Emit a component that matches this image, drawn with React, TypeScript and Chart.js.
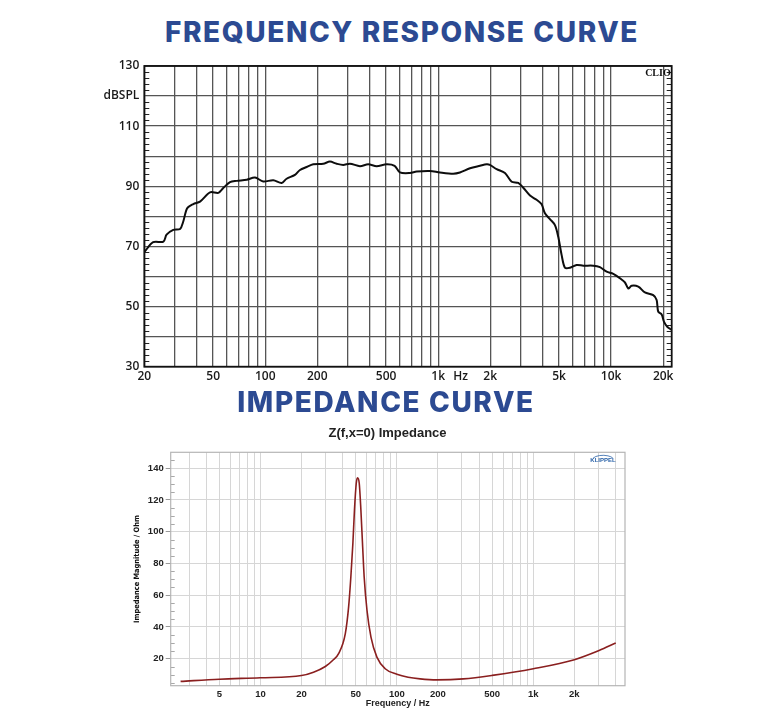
import React, { useRef, useEffect } from 'react';
import { Chart, registerables } from 'chart.js';

Chart.register(...registerables);

// ---- frequency response (CLIO) ----
const frHz = [
  20, 22.5, 25.8, 26.9, 29.4, 32.2, 33.6, 35.4, 38.4, 42, 48, 53.6, 57.2, 62.6, 68.4, 78.2, 87.3, 97.4,
  111.4, 124.5, 133, 148.6, 158.9, 173.7, 189.6, 216.6, 236.8, 258.9, 282.7, 309, 353, 394, 441, 504,
  560, 601, 687, 751, 896, 1024, 1222, 1336, 1528, 1746, 1907, 1992, 2178, 2433, 2661, 2905, 3106,
  3397, 3709, 3965, 4143, 4428, 4734, 4947, 5176, 5409, 5780, 6317, 6902, 7878, 8614, 9418, 10290,
  11250, 12025, 12570, 13140, 14360, 15680, 17520, 18330, 18720, 19600, 20200, 21110, 22400,
];
const frDb = [
  68.1, 71.4, 71.6, 73.9, 75.5, 75.8, 78.3, 82.7, 84.1, 84.9, 88.0, 87.8, 89.4, 91.4, 91.8, 92.2, 92.9, 91.6,
  92.0, 91.1, 92.5, 93.8, 95.4, 96.4, 97.3, 97.5, 98.2, 97.5, 97.1, 97.5, 96.7, 97.3, 96.7, 97.3,
  96.8, 94.6, 94.4, 94.9, 95.1, 94.6, 94.2, 94.6, 96.0, 96.8, 97.3, 97.1, 95.7, 94.4, 91.5, 91.1, 89.5,
  86.9, 85.5, 84.0, 81.0, 79.1, 77.1, 73.2, 67.1, 62.9, 62.9, 63.8, 63.6, 63.6, 63.1, 61.6, 60.9,
  59.4, 58.0, 56.0, 56.9, 56.6, 54.7, 53.8, 52.2, 48.3, 47.4, 45.0, 43.3, 42.2,
];
const frGridHz = [
  20, 30, 40, 50, 60, 70, 80, 90, 100, 200, 300, 400, 500, 600, 700, 800, 900,
  1000, 1350, 2000, 3000, 4000, 5000, 6000, 7000, 8000, 9000, 10000, 20000,
];
const frHzMark = 1350;
const frLabels: Record<number, string> = {
  20: '20', 50: '50', 100: '100', 200: '200', 500: '500', 1000: '1k', 1350: 'Hz',
  2000: '2k', 5000: '5k', 10000: '10k', 20000: '20k',
};
const frDbTicks = [30, 40, 50, 60, 70, 80, 90, 100, 110, 120, 130];
const frDbLabels: Record<number, string> = {
  130: '130', 120: 'dBSPL', 110: '110', 90: '90', 70: '70', 50: '50', 30: '30',
};

// ---- impedance (Klippel) ----
const zHz = [
  2.6, 5, 10, 20, 24.5, 29.9, 34.4, 37.4, 41.9, 44.3, 46.0, 47.6, 48.9, 50.4, 51.5, 53.0, 54.5, 56.0,
  57.6, 60.4, 64.6, 71.4, 82.1, 100, 121, 148, 196, 307, 500, 1000, 2000, 3035, 4018,
];
const zOhm = [
  5.7, 7.1, 8.0, 9.4, 11.5, 15.1, 19.5, 23.2, 35.8, 52.6, 71.5, 92.6, 113.7, 130.5, 134, 130.5, 113.7, 92.6,
  71.5, 50.5, 33.6, 21.0, 13.7, 10.2, 8.3, 7.3, 6.7, 7.3, 9.5, 13.7, 19.4, 25.2, 29.9,
];
const zGridHz = [
  3, 4, 5, 6, 7, 8, 9, 10, 20, 30, 40, 50, 60, 70, 80, 90, 100, 200, 300, 400, 500, 600, 700, 800, 900,
  1000, 2000, 3000, 4000,
];
const zLabels: Record<number, string> = {
  5: '5', 10: '10', 20: '20', 50: '50', 100: '100', 200: '200', 500: '500', 1000: '1k', 2000: '2k',
};
const zOhmTicks = [20, 40, 60, 80, 100, 120, 140];

const clioFrame = {
  id: 'clioFrame',
  afterDraw(chart: any) {
    const { ctx, chartArea: a, scales } = chart;
    ctx.save();
    ctx.strokeStyle = '#222';
    ctx.lineWidth = 1;
    for (let v = 32; v < 130; v += 2) {
      if (v % 10 === 0) continue;
      const py = Math.round(scales.y.getPixelForValue(v)) + 0.5;
      ctx.beginPath();
      ctx.moveTo(a.left, py);
      ctx.lineTo(a.left + 5, py);
      ctx.moveTo(a.right - 5, py);
      ctx.lineTo(a.right, py);
      ctx.stroke();
    }
    ctx.strokeStyle = '#111';
    ctx.lineWidth = 1.8;
    ctx.strokeRect(a.left, a.top, a.right - a.left, a.bottom - a.top);
    ctx.fillStyle = '#111';
    ctx.font = 'bold 10px "Liberation Serif", serif';
    ctx.textAlign = 'right';
    ctx.textBaseline = 'top';
    ctx.fillText('CLIO', a.right - 1, a.top + 2);
    ctx.restore();
  },
};

const klippelFrame = {
  id: 'klippelFrame',
  afterDraw(chart: any) {
    const { ctx, chartArea: a, scales, width } = chart;
    ctx.save();
    ctx.strokeStyle = '#a8a8a8';
    ctx.lineWidth = 1;
    for (let v = 5; v < 150; v += 5) {
      if (v % 20 === 0) continue;
      const py = Math.round(scales.y.getPixelForValue(v)) + 0.5;
      ctx.beginPath();
      ctx.moveTo(a.left, py);
      ctx.lineTo(a.left + 4, py);
      ctx.stroke();
    }
    ctx.strokeStyle = '#b5b5b5';
    ctx.lineWidth = 1.2;
    ctx.strokeRect(a.left, a.top, a.right - a.left, a.bottom - a.top);

    // chart heading, centred on the whole canvas
    ctx.fillStyle = '#222';
    ctx.font = 'bold 13px "Liberation Sans", Arial, sans-serif';
    ctx.textAlign = 'center';
    ctx.textBaseline = 'middle';
    ctx.fillText('Z(f,x=0) Impedance', width / 2, 13);

    ctx.fillStyle = '#2a62a8';
    ctx.font = 'bold 6px "Liberation Sans", Arial, sans-serif';
    ctx.fillText('KLIPPEL', a.right - 22, a.top + 8);
    ctx.strokeStyle = '#2a62a8';
    ctx.lineWidth = 0.8;
    ctx.beginPath();
    ctx.ellipse(a.right - 22, a.top + 8, 11, 5, 0, Math.PI * 1.15, Math.PI * 1.85);
    ctx.stroke();
    ctx.restore();
  },
};

const FrequencyChart: React.FC = () => {
  const chartRef = useRef<HTMLCanvasElement>(null);

  useEffect(() => {
    if (!chartRef.current) return;
    const tickFont = { family: '"Open Sans", sans-serif', size: 12, weight: 600 as any };
    const chart = new Chart(chartRef.current, {
      type: 'line',
      data: {
        datasets: [{
          data: frHz.map((f, i) => ({ x: f, y: frDb[i] })),
          borderColor: '#0d0d0d',
          borderWidth: 2,
          pointRadius: 0,
          tension: 0.3,
          fill: false,
        }],
      },
      options: {
        animation: false,
        responsive: true,
        maintainAspectRatio: false,
        layout: { padding: { top: 16, right: 89.3, bottom: 0, left: 0 } },
        plugins: { legend: { display: false }, tooltip: { enabled: false } },
        scales: {
          x: {
            type: 'logarithmic',
            min: 20,
            max: 22400,
            afterBuildTicks: (s: any) => { s.ticks = frGridHz.map((value) => ({ value })); },
            afterFit: (s: any) => { s.height = 23.3; },
            grid: {
              color: (c: any) => (c.tick && c.tick.value === frHzMark ? 'rgba(0,0,0,0)' : '#555'),
              lineWidth: 1.3,
              drawTicks: false,
            },
            border: { display: false },
            ticks: {
              autoSkip: false,
              maxRotation: 0,
              padding: 3,
              color: '#1a1a1a',
              font: tickFont,
              callback: (v: any) => frLabels[Number(v)] ?? '',
            },
          },
          y: {
            min: 30,
            max: 130,
            afterBuildTicks: (s: any) => { s.ticks = frDbTicks.map((value) => ({ value })); },
            afterFit: (s: any) => { s.width = 144.3; },
            grid: { color: '#555', lineWidth: 1.3, drawTicks: false },
            border: { display: false },
            ticks: {
              padding: 5,
              color: '#1a1a1a',
              font: tickFont,
              callback: (v: any) => frDbLabels[Number(v)] ?? '',
            },
          },
        },
      },
      plugins: [clioFrame],
    });
    return () => chart.destroy();
  }, []);

  return (
    <div style={{ position: 'absolute', left: 0, top: 50, width: 761, height: 340 }}>
      <canvas ref={chartRef}></canvas>
    </div>
  );
};

const ImpedanceChart: React.FC = () => {
  const chartRef = useRef<HTMLCanvasElement>(null);

  useEffect(() => {
    if (!chartRef.current) return;
    const tickFont = { family: '"Liberation Sans", Arial, sans-serif', size: 9.5, weight: 'bold' as any };
    const chart = new Chart(chartRef.current, {
      type: 'line',
      data: {
        datasets: [{
          data: zHz.map((f, i) => ({ x: f, y: zOhm[i] })),
          borderColor: '#8a1f1f',
          borderWidth: 1.6,
          pointRadius: 0,
          cubicInterpolationMode: 'monotone',
          fill: false,
        }],
      },
      options: {
        animation: false,
        responsive: true,
        maintainAspectRatio: false,
        layout: { padding: { top: 32.3, right: 30, bottom: 0, left: 0 } },
        plugins: {
          legend: { display: false },
          tooltip: { enabled: false },
        },
        scales: {
          x: {
            type: 'logarithmic',
            min: 2.2,
            max: 4700,
            afterBuildTicks: (s: any) => { s.ticks = zGridHz.map((value) => ({ value })); },
            afterFit: (s: any) => { s.height = 28.3; },
            grid: { color: '#d6d6d6', lineWidth: 1, drawTicks: false },
            border: { display: false },
            title: {
              display: true,
              text: 'Frequency / Hz',
              color: '#222',
              font: { family: '"Liberation Sans", Arial, sans-serif', size: 9, weight: 'bold' },
              padding: { top: 0, bottom: 4.6 },
            },
            ticks: {
              autoSkip: false,
              maxRotation: 0,
              padding: 3,
              color: '#222',
              font: tickFont,
              callback: (v: any) => zLabels[Number(v)] ?? '',
            },
          },
          y: {
            min: 3,
            max: 150,
            afterBuildTicks: (s: any) => { s.ticks = zOhmTicks.map((value) => ({ value })); },
            afterFit: (s: any) => { s.width = 50.7; },
            grid: { color: '#d6d6d6', lineWidth: 1, tickColor: '#999', tickLength: 5 },
            border: { display: false },
            title: {
              display: true,
              text: 'Impedance Magnitude / Ohm',
              color: '#111',
              font: { family: '"DejaVu Sans Condensed", "Liberation Sans Narrow", sans-serif', size: 7.4, weight: 'bold' },
              padding: { top: 12.6, bottom: 0 },
            },
            ticks: {
              padding: 2,
              color: '#222',
              font: tickFont,
            },
          },
        },
      },
      plugins: [klippelFrame],
    });
    return () => chart.destroy();
  }, []);

  return (
    <div style={{ position: 'absolute', left: 120, top: 420, width: 535, height: 294 }}>
      <canvas ref={chartRef}></canvas>
    </div>
  );
};

const headingStyle: React.CSSProperties = {
  position: 'absolute',
  margin: 0,
  fontFamily: 'Inter, "Open Sans", sans-serif',
  fontWeight: 800,
  fontSize: 28,
  letterSpacing: 1.6,
  color: '#2c4a92',
  whiteSpace: 'nowrap',
  lineHeight: '30px',
  transform: 'translateX(-50%)',
};

const App: React.FC = () => (
  <div style={{ position: 'fixed', left: 0, top: 0, width: 761, height: 714, background: '#fff', overflow: 'hidden' }}>
    <div style={{ ...headingStyle, left: 402, top: 17 }}>FREQUENCY RESPONSE CURVE</div>
    <FrequencyChart />
    <div style={{ ...headingStyle, left: 386, top: 387 }}>IMPEDANCE CURVE</div>
    <ImpedanceChart />
  </div>
);

export default App;
